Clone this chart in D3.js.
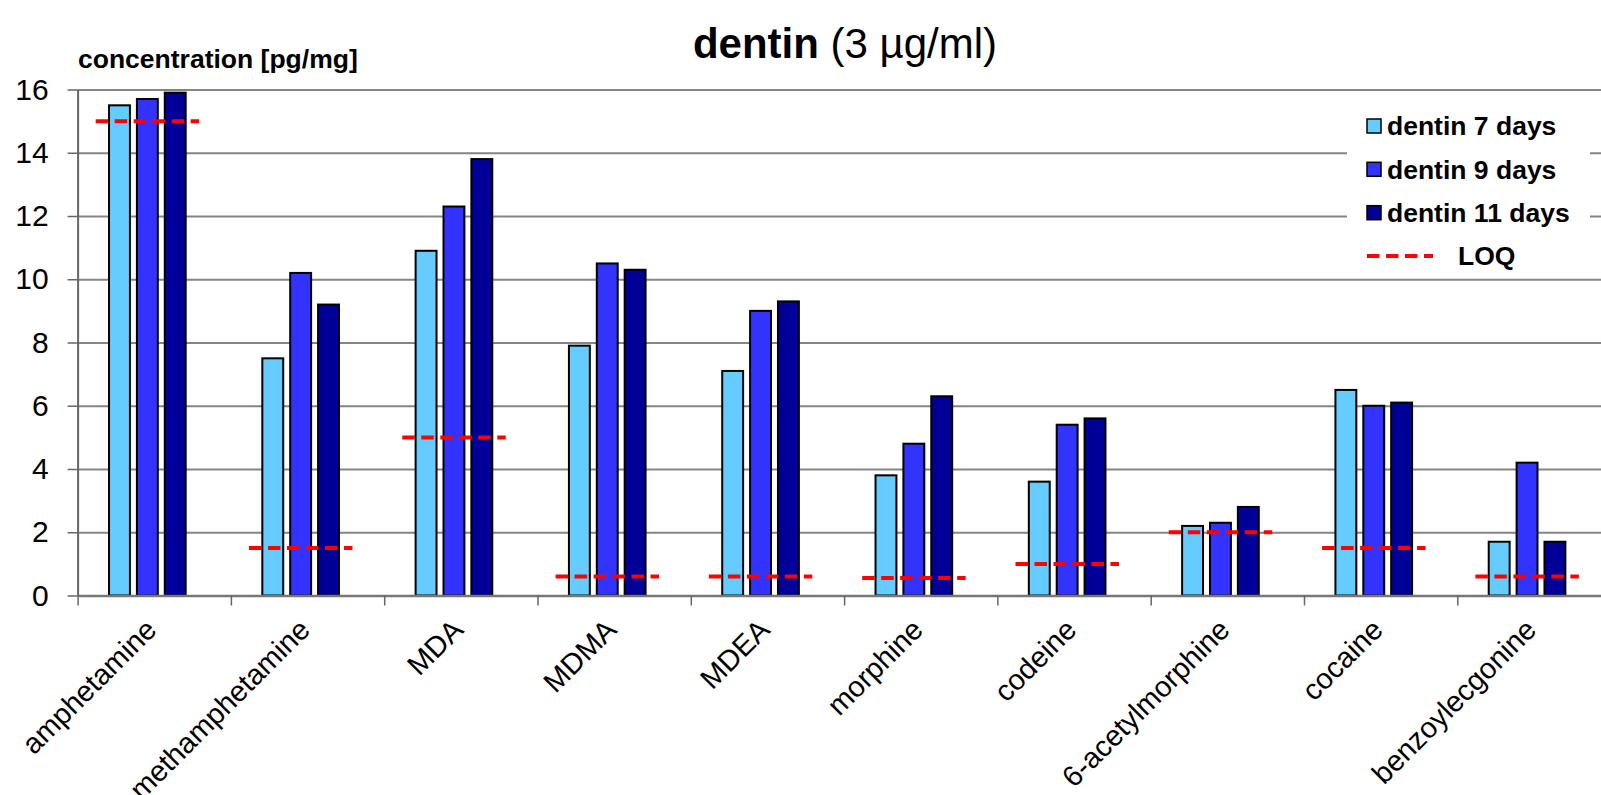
<!DOCTYPE html>
<html><head><meta charset="utf-8">
<script src="https://cdn.jsdelivr.net/npm/d3@7"></script>
<style>
body{margin:0;background:#fff}
svg{display:block}
text{font-family:"Liberation Sans",Arial,Helvetica,sans-serif;fill:#000}
</style>
</head><body>
<svg id="c" width="1601" height="795"></svg>
<script>
const categories = ["amphetamine","methamphetamine","MDA","MDMA","MDEA","morphine","codeine","6-acetylmorphine","cocaine","benzoylecgonine"];
const seriesNames = ["dentin 7 days","dentin 9 days","dentin 11 days"];
const dentin7  = [15.5, 7.5, 10.9, 7.9, 7.1, 3.8, 3.6, 2.2, 6.5, 1.7];
const dentin9  = [15.7, 10.2, 12.3, 10.5, 9.0, 4.8, 5.4, 2.3, 6.0, 4.2];
const dentin11 = [15.9, 9.2, 13.8, 10.3, 9.3, 6.3, 5.6, 2.8, 6.1, 1.7];
const loq      = [15.0, 1.5, 5.0, 0.6, 0.6, 0.55, 1.0, 2.0, 1.5, 0.6];
const yTicks   = [0, 2, 4, 6, 8, 10, 12, 14, 16];
const seriesColors = ["#66CCFF", "#3333FF", "#000099"];

(function () {
const values = [dentin7, dentin9, dentin11];
const svg = d3.select("#c");

const pLeft = 77.6, catW = 153.3, pBottom = 595.5, pTop = 89.5;
const x = d3.scaleBand().domain(categories).range([pLeft, pLeft + catW * categories.length]).padding(0);
const y = d3.scaleLinear().domain([0, 16]).range([pBottom, pTop]);
const xs = d3.scaleBand().domain(seriesNames).range([x.bandwidth() * 0.205, x.bandwidth() * 0.705]).paddingInner(0.25);

// gridlines
svg.append("g").attr("transform", `translate(${pLeft},0)`)
  .call(d3.axisLeft(y).tickValues(yTicks.filter(d => d > 0)).tickSize(-(1601 - pLeft)).tickFormat(""))
  .call(g => g.select(".domain").remove())
  .call(g => g.selectAll("line").attr("stroke", "#858585").attr("stroke-width", 2));

// legend background
svg.append("rect").attr("x", 1347).attr("y", 100).attr("width", 243).attr("height", 170).attr("fill", "#fff");

// bars
const data = [];
categories.forEach((c, i) => seriesNames.forEach((s, j) => data.push({c, s, j, v: values[j][i]})));
svg.append("g").selectAll("rect").data(data).join("rect")
  .attr("x", d => x(d.c) + xs(d.s))
  .attr("y", d => y(d.v))
  .attr("width", xs.bandwidth())
  .attr("height", d => y(0) - y(d.v))
  .attr("fill", d => seriesColors[d.j])
  .attr("stroke", "#000").attr("stroke-width", 2);

// LOQ lines
svg.append("g").selectAll("line").data(categories).join("line")
  .attr("x1", c => x(c) + x.bandwidth() * 0.118)
  .attr("x2", c => x(c) + x.bandwidth() * 0.793)
  .attr("y1", (c, i) => y(loq[i])).attr("y2", (c, i) => y(loq[i]))
  .attr("stroke", "#ff0000").attr("stroke-width", 4).attr("stroke-dasharray", "12.5,6.5");

// x axis (ticks at category boundaries)
const xb = d3.scaleLinear().domain([0, categories.length]).range([pLeft, pLeft + catW * categories.length]);
svg.append("g").attr("transform", `translate(0,${pBottom})`)
  .call(d3.axisBottom(xb).tickValues(d3.range(0, categories.length + 1)).tickSize(10).tickFormat("").tickSizeOuter(0))
  .call(g => g.select(".domain").attr("stroke", "#777").attr("stroke-width", 2.5))
  .call(g => g.selectAll("line").attr("stroke", "#666").attr("stroke-width", 1.5));

svg.append("g").selectAll("text").data(categories).join("text")
  .attr("transform", c => `translate(${x(c) + x.bandwidth() / 2 + 4},${pBottom + 36}) rotate(-45)`)
  .attr("text-anchor", "end")
  .style("font-size", "29px")
  .text(c => c);

// y axis
svg.append("g").attr("transform", `translate(${pLeft},0)`)
  .call(d3.axisLeft(y).tickValues(yTicks).tickSize(10).tickPadding(19).tickSizeOuter(0))
  .call(g => g.select(".domain").attr("stroke", "#666").attr("stroke-width", 2))
  .call(g => g.selectAll("line").attr("stroke", "#666").attr("stroke-width", 1.5))
  .call(g => g.selectAll("text").style("font-size", "30px").attr("font-family", null).attr("fill", "#000"));

// axis title
svg.append("text").attr("x", 78).attr("y", 68).style("font-size", "26.5px").style("font-weight", "bold")
  .text("concentration [pg/mg]");

// title
const t = svg.append("text").attr("x", 845).attr("y", 58).attr("text-anchor", "middle").style("font-size", "42px");
t.append("tspan").style("font-weight", "bold").text("dentin");
t.append("tspan").text(" (3 µg/ml)");

// legend
const rowY = [126, 169.3, 212.7, 256];
const lg = svg.append("g");
seriesNames.forEach((s, j) => {
  lg.append("rect").attr("x", 1367).attr("y", rowY[j] - 7).attr("width", 14).attr("height", 14)
    .attr("fill", seriesColors[j]).attr("stroke", "#000").attr("stroke-width", 1.5);
  lg.append("text").attr("x", 1387).attr("y", rowY[j]).attr("dy", "0.35em")
    .style("font-size", "26.5px").style("font-weight", "bold").text(s);
});
lg.append("line").attr("x1", 1367).attr("x2", 1433).attr("y1", rowY[3]).attr("y2", rowY[3])
  .attr("stroke", "#ff0000").attr("stroke-width", 4).attr("stroke-dasharray", "12.5,6.5");
lg.append("text").attr("x", 1458).attr("y", rowY[3]).attr("dy", "0.35em")
  .style("font-size", "26.5px").style("font-weight", "bold").text("LOQ");
})();
</script>
</body></html>
